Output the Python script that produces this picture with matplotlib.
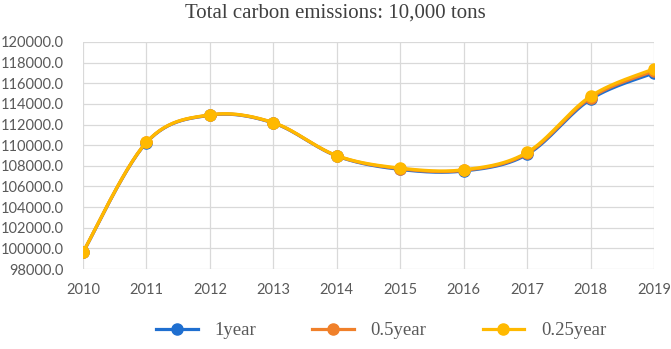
import numpy as np
import matplotlib.pyplot as plt

years = [2010, 2011, 2012, 2013, 2014, 2015, 2016, 2017, 2018, 2019]
one_year = [99600, 110250, 112900, 112150, 108950, 107650, 107500, 109100, 114450, 117000]
half_year = [99620, 110270, 112920, 112170, 108970, 107720, 107560, 109200, 114600, 117200]
quarter_year = [99640, 110290, 112940, 112190, 108990, 107780, 107620, 109300, 114750, 117400]
series_names = ["1year", "0.5year", "0.25year"]
colors = ["#1f6fd0", "#f0802a", "#ffb900"]


def smooth(xs, ys, n=30):
    # Excel-style smoothed line (Catmull-Rom through the points)
    xs = np.asarray(xs, float)
    ys = np.asarray(ys, float)
    px = np.concatenate([[xs[0]], xs, [xs[-1]]])
    py = np.concatenate([[ys[0]], ys, [ys[-1]]])
    ox, oy = [], []
    for i in range(1, len(px) - 2):
        p0 = np.array([px[i - 1], py[i - 1]])
        p1 = np.array([px[i], py[i]])
        p2 = np.array([px[i + 1], py[i + 1]])
        p3 = np.array([px[i + 2], py[i + 2]])
        c1 = p1 + (p2 - p0) / 6
        c2 = p2 - (p3 - p1) / 6
        t = np.linspace(0, 1, n)[:, None]
        b = (1 - t) ** 3 * p1 + 3 * (1 - t) ** 2 * t * c1 + 3 * (1 - t) * t ** 2 * c2 + t ** 3 * p2
        ox.extend(b[:, 0])
        oy.extend(b[:, 1])
    return ox, oy


fig = plt.figure(figsize=(6.71, 3.49), dpi=100)
ax = fig.add_axes([0.1237, 0.2292, 0.851, 0.6505])

for name, vals, c in zip(series_names, [one_year, half_year, quarter_year], colors):
    sx, sy = smooth(years, vals)
    ax.plot(sx, sy, color=c, linewidth=2.3, solid_capstyle="round")
    ax.plot(years, vals, linestyle="none", marker="o", markersize=8, color=c)
    ax.plot([], [], color=c, linewidth=2.3, marker="o", markersize=8, label=name)

ax.set_xlim(2010, 2019)
ax.set_ylim(98000, 120000)
ax.set_xticks(years)
ax.set_yticks(np.arange(98000, 120001, 2000))
ax.set_yticklabels([f"{v:.1f}" for v in np.arange(98000, 120001, 2000)])
ax.grid(True, color="#d9d9d9", linewidth=0.9)
ax.set_axisbelow(True)
for s in ax.spines.values():
    s.set_visible(False)
ax.tick_params(length=0, labelsize=10.5, labelcolor="#595959")
ax.tick_params(axis="x", pad=10)
ax.tick_params(axis="y", pad=14)
for lab in ax.get_xticklabels() + ax.get_yticklabels():
    lab.set_fontfamily("Lato")

fig.text(0.5, 0.962, "Total carbon emissions: 10,000 tons", ha="center", va="center",
         fontsize=15, family="Liberation Serif", color="#404040")

fig.legend(loc="center", bbox_to_anchor=(0.568, 0.052), ncol=3, frameon=False,
           prop={"family": "Liberation Serif", "size": 13.5}, labelcolor="#595959",
           handlelength=2.2, columnspacing=3.0, handletextpad=0.9)

fig.savefig("out.png", dpi=100)
